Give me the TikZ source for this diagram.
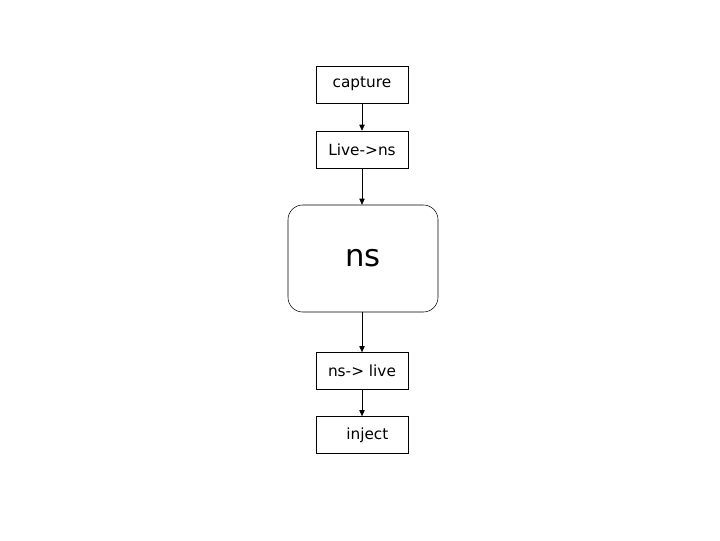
\documentclass[tikz,border=0pt]{standalone}
\usepackage{fontspec}
\setmainfont{DejaVu Sans}
\usetikzlibrary{arrows.meta}

\begin{document}
\begin{tikzpicture}[x=0.75pt,y=-0.75pt,
		stage/.style={draw, minimum width=69pt, minimum height=27.75pt, inner sep=0pt, font=\fontsize{11.5}{14}\selectfont},
		core/.style={draw, rounded corners=11pt, minimum width=112.5pt, minimum height=80.25pt, inner sep=0pt, font=\fontsize{23}{28}\selectfont},
		flow/.style={-{Triangle[length=4.5pt,width=4pt]}}]
		\useasboundingbox (0,0) rectangle (720,540);
		\node[stage] (capture) at (362,84.5) {\raisebox{3pt}{capture}\hspace{4pt}};
		\node[stage] (livens) at (362,149.5) {Live->ns\hspace{5pt}};
		\node[core] (ns) at (363,258.5) {ns\hspace{5pt}};
		\node[stage] (nslive) at (362,371) {ns-> live\hspace{3pt}};
		\node[stage] (inject) at (362,435) {\hspace{8pt}inject};
		\draw [flow] (capture) -- (livens);
		\draw [flow] (livens) -- (livens|-ns.north);
		\draw [flow] (nslive|-ns.south) -- (nslive);
		\draw [flow] (nslive) -- (inject);
		\end{tikzpicture}
\end{document}
